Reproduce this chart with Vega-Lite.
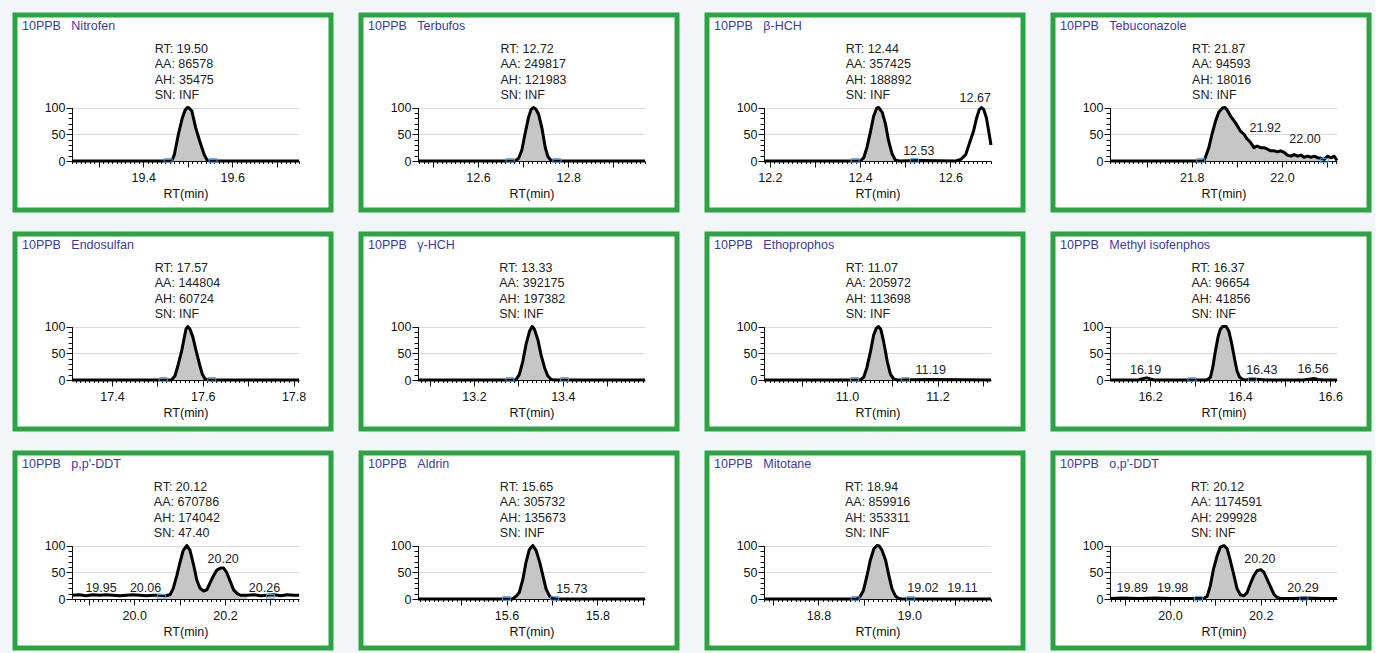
{
"$schema": "https://vega.github.io/schema/vega-lite/v6.json",
"background": "#f3f6f8",
"padding": {"left": 12, "top": 12, "right": 3, "bottom": 3},
"columns": 4,
"spacing": {"row": 18, "column": 24},
"config": {
  "font": "Liberation Sans",
  "view": {"stroke": "#2ca444", "strokeWidth": 5, "fill": "#ffffff"},
  "title": {"anchor": "start", "frame": "group", "offset": -17, "dx": 7, "baseline": "middle", "fontSize": 12.5, "fontWeight": "normal", "color": "#3a3aa0", "font": "Liberation Sans"},
  "axis": {"labelFont": "Liberation Sans", "labelFontSize": 12.5, "labelColor": "#111111", "tickColor": "#111111", "domainColor": "#111111", "titleFont": "Liberation Sans", "titleFontSize": 12.5, "titleFontWeight": "normal", "titleColor": "#111111"},
  "text": {"font": "Liberation Sans", "fontSize": 12.5, "color": "#222222"}
},
"datasets": {
  "curve": [
    {"c":"nit","t":19.24,"v":0,"f":0},{"c":"nit","t":19.456,"v":0,"f":0},{"c":"nit","t":19.464,"v":0,"f":1},{"c":"nit","t":19.470,"v":12,"f":1},{"c":"nit","t":19.479,"v":50,"f":1},{"c":"nit","t":19.488,"v":81,"f":1},{"c":"nit","t":19.494,"v":95,"f":1},{"c":"nit","t":19.499,"v":100,"f":1},{"c":"nit","t":19.503,"v":99,"f":1},{"c":"nit","t":19.509,"v":94,"f":1},{"c":"nit","t":19.518,"v":62,"f":1},{"c":"nit","t":19.527,"v":37,"f":1},{"c":"nit","t":19.537,"v":12,"f":1},{"c":"nit","t":19.544,"v":1,"f":1},{"c":"nit","t":19.550,"v":0,"f":1},{"c":"nit","t":19.75,"v":0,"f":0},
    {"c":"ter","t":12.467,"v":0,"f":0},{"c":"ter","t":12.675,"v":0,"f":0},{"c":"ter","t":12.682,"v":0,"f":1},{"c":"ter","t":12.690,"v":5,"f":1},{"c":"ter","t":12.697,"v":20,"f":1},{"c":"ter","t":12.704,"v":50,"f":1},{"c":"ter","t":12.712,"v":82,"f":1},{"c":"ter","t":12.718,"v":97,"f":1},{"c":"ter","t":12.723,"v":100,"f":1},{"c":"ter","t":12.728,"v":97,"f":1},{"c":"ter","t":12.734,"v":88,"f":1},{"c":"ter","t":12.742,"v":60,"f":1},{"c":"ter","t":12.749,"v":25,"f":1},{"c":"ter","t":12.755,"v":8,"f":1},{"c":"ter","t":12.762,"v":1,"f":1},{"c":"ter","t":12.768,"v":0,"f":1},{"c":"ter","t":12.97,"v":0,"f":0},
    {"c":"bhch","t":12.187,"v":0,"f":0},{"c":"bhch","t":12.39,"v":0,"f":0},{"c":"bhch","t":12.400,"v":0,"f":1},{"c":"bhch","t":12.408,"v":6,"f":1},{"c":"bhch","t":12.415,"v":25,"f":1},{"c":"bhch","t":12.423,"v":55,"f":1},{"c":"bhch","t":12.430,"v":84,"f":1},{"c":"bhch","t":12.437,"v":99,"f":1},{"c":"bhch","t":12.441,"v":100,"f":1},{"c":"bhch","t":12.449,"v":91,"f":1},{"c":"bhch","t":12.456,"v":70,"f":1},{"c":"bhch","t":12.463,"v":38,"f":1},{"c":"bhch","t":12.471,"v":13,"f":1},{"c":"bhch","t":12.478,"v":2,"f":1},{"c":"bhch","t":12.486,"v":0,"f":1},{"c":"bhch","t":12.53,"v":1,"f":0},{"c":"bhch","t":12.612,"v":0,"f":0},{"c":"bhch","t":12.623,"v":3,"f":0},{"c":"bhch","t":12.634,"v":12,"f":0},{"c":"bhch","t":12.643,"v":35,"f":0},{"c":"bhch","t":12.651,"v":55,"f":0},{"c":"bhch","t":12.658,"v":80,"f":0},{"c":"bhch","t":12.664,"v":96,"f":0},{"c":"bhch","t":12.669,"v":100,"f":0},{"c":"bhch","t":12.674,"v":96,"f":0},{"c":"bhch","t":12.680,"v":80,"f":0},{"c":"bhch","t":12.685,"v":55,"f":0},{"c":"bhch","t":12.69,"v":30,"f":0},
    {"c":"teb","t":21.619,"v":0,"f":0},{"c":"teb","t":21.82,"v":0,"f":0},{"c":"teb","t":21.827,"v":0,"f":1},{"c":"teb","t":21.830,"v":6,"f":1},{"c":"teb","t":21.838,"v":25,"f":1},{"c":"teb","t":21.845,"v":50,"f":1},{"c":"teb","t":21.853,"v":75,"f":1},{"c":"teb","t":21.860,"v":91,"f":1},{"c":"teb","t":21.868,"v":99,"f":1},{"c":"teb","t":21.874,"v":100,"f":1},{"c":"teb","t":21.879,"v":95,"f":1},{"c":"teb","t":21.886,"v":84,"f":1},{"c":"teb","t":21.894,"v":75,"f":1},{"c":"teb","t":21.901,"v":66,"f":1},{"c":"teb","t":21.908,"v":56,"f":1},{"c":"teb","t":21.916,"v":50,"f":1},{"c":"teb","t":21.923,"v":41,"f":1},{"c":"teb","t":21.931,"v":34,"f":1},{"c":"teb","t":21.938,"v":25,"f":1},{"c":"teb","t":21.945,"v":28,"f":1},{"c":"teb","t":21.953,"v":25,"f":1},{"c":"teb","t":21.960,"v":25,"f":1},{"c":"teb","t":21.968,"v":22,"f":1},{"c":"teb","t":21.975,"v":19,"f":1},{"c":"teb","t":21.983,"v":19,"f":1},{"c":"teb","t":21.990,"v":17,"f":1},{"c":"teb","t":21.997,"v":19,"f":1},{"c":"teb","t":22.005,"v":16,"f":1},{"c":"teb","t":22.012,"v":11,"f":1},{"c":"teb","t":22.020,"v":9,"f":1},{"c":"teb","t":22.027,"v":12,"f":1},{"c":"teb","t":22.035,"v":9,"f":1},{"c":"teb","t":22.042,"v":11,"f":1},{"c":"teb","t":22.049,"v":7,"f":1},{"c":"teb","t":22.057,"v":9,"f":1},{"c":"teb","t":22.064,"v":7,"f":1},{"c":"teb","t":22.072,"v":9,"f":1},{"c":"teb","t":22.079,"v":6,"f":1},{"c":"teb","t":22.086,"v":5,"f":1},{"c":"teb","t":22.094,"v":3,"f":1},{"c":"teb","t":22.101,"v":9,"f":0},{"c":"teb","t":22.109,"v":6,"f":0},{"c":"teb","t":22.116,"v":9,"f":0},{"c":"teb","t":22.122,"v":1,"f":0},
    {"c":"endo","t":17.312,"v":0,"f":0},{"c":"endo","t":17.525,"v":0,"f":0},{"c":"endo","t":17.531,"v":0,"f":1},{"c":"endo","t":17.539,"v":8,"f":1},{"c":"endo","t":17.546,"v":29,"f":1},{"c":"endo","t":17.554,"v":56,"f":1},{"c":"endo","t":17.559,"v":78,"f":1},{"c":"endo","t":17.563,"v":95,"f":1},{"c":"endo","t":17.567,"v":100,"f":1},{"c":"endo","t":17.572,"v":95,"f":1},{"c":"endo","t":17.578,"v":81,"f":1},{"c":"endo","t":17.585,"v":56,"f":1},{"c":"endo","t":17.593,"v":29,"f":1},{"c":"endo","t":17.599,"v":11,"f":1},{"c":"endo","t":17.605,"v":2,"f":1},{"c":"endo","t":17.613,"v":0,"f":1},{"c":"endo","t":17.812,"v":0,"f":0},
    {"c":"ghch","t":13.074,"v":0,"f":0},{"c":"ghch","t":13.288,"v":0,"f":0},{"c":"ghch","t":13.294,"v":0,"f":1},{"c":"ghch","t":13.302,"v":10,"f":1},{"c":"ghch","t":13.310,"v":35,"f":1},{"c":"ghch","t":13.317,"v":66,"f":1},{"c":"ghch","t":13.325,"v":91,"f":1},{"c":"ghch","t":13.331,"v":100,"f":1},{"c":"ghch","t":13.336,"v":95,"f":1},{"c":"ghch","t":13.344,"v":75,"f":1},{"c":"ghch","t":13.351,"v":47,"f":1},{"c":"ghch","t":13.359,"v":23,"f":1},{"c":"ghch","t":13.366,"v":8,"f":1},{"c":"ghch","t":13.374,"v":1,"f":1},{"c":"ghch","t":13.381,"v":0,"f":1},{"c":"ghch","t":13.585,"v":0,"f":0},
    {"c":"eth","t":10.817,"v":0,"f":0},{"c":"eth","t":11.022,"v":0,"f":0},{"c":"eth","t":11.029,"v":0,"f":1},{"c":"eth","t":11.037,"v":5,"f":1},{"c":"eth","t":11.044,"v":23,"f":1},{"c":"eth","t":11.052,"v":53,"f":1},{"c":"eth","t":11.059,"v":84,"f":1},{"c":"eth","t":11.065,"v":97,"f":1},{"c":"eth","t":11.070,"v":100,"f":1},{"c":"eth","t":11.075,"v":94,"f":1},{"c":"eth","t":11.081,"v":72,"f":1},{"c":"eth","t":11.089,"v":35,"f":1},{"c":"eth","t":11.096,"v":11,"f":1},{"c":"eth","t":11.103,"v":2,"f":1},{"c":"eth","t":11.111,"v":0,"f":1},{"c":"eth","t":11.185,"v":1,"f":0},{"c":"eth","t":11.318,"v":0,"f":0},
    {"c":"mip","t":16.111,"v":0,"f":0},{"c":"mip","t":16.174,"v":0,"f":0},{"c":"mip","t":16.185,"v":3,"f":0},{"c":"mip","t":16.193,"v":4,"f":0},{"c":"mip","t":16.200,"v":2,"f":0},{"c":"mip","t":16.208,"v":0,"f":0},{"c":"mip","t":16.320,"v":0,"f":0},{"c":"mip","t":16.326,"v":0,"f":1},{"c":"mip","t":16.334,"v":5,"f":1},{"c":"mip","t":16.339,"v":23,"f":1},{"c":"mip","t":16.345,"v":54,"f":1},{"c":"mip","t":16.351,"v":81,"f":1},{"c":"mip","t":16.356,"v":95,"f":1},{"c":"mip","t":16.361,"v":100,"f":1},{"c":"mip","t":16.369,"v":100,"f":1},{"c":"mip","t":16.375,"v":91,"f":1},{"c":"mip","t":16.381,"v":69,"f":1},{"c":"mip","t":16.387,"v":42,"f":1},{"c":"mip","t":16.393,"v":17,"f":1},{"c":"mip","t":16.399,"v":5,"f":1},{"c":"mip","t":16.406,"v":1,"f":1},{"c":"mip","t":16.412,"v":0,"f":1},{"c":"mip","t":16.427,"v":2,"f":0},{"c":"mip","t":16.442,"v":1,"f":0},{"c":"mip","t":16.457,"v":0,"f":0},{"c":"mip","t":16.540,"v":0,"f":0},{"c":"mip","t":16.557,"v":2,"f":0},{"c":"mip","t":16.564,"v":3,"f":0},{"c":"mip","t":16.572,"v":1,"f":0},{"c":"mip","t":16.585,"v":0,"f":0},{"c":"mip","t":16.615,"v":0,"f":0},
    {"c":"ppddt","t":19.863,"v":7,"f":0},{"c":"ppddt","t":19.879,"v":8,"f":0},{"c":"ppddt","t":19.894,"v":6,"f":0},{"c":"ppddt","t":19.909,"v":8,"f":0},{"c":"ppddt","t":19.924,"v":7,"f":0},{"c":"ppddt","t":19.938,"v":8,"f":0},{"c":"ppddt","t":19.953,"v":7,"f":0},{"c":"ppddt","t":19.968,"v":6,"f":0},{"c":"ppddt","t":19.983,"v":7,"f":0},{"c":"ppddt","t":19.997,"v":8,"f":0},{"c":"ppddt","t":20.012,"v":7,"f":0},{"c":"ppddt","t":20.027,"v":6,"f":0},{"c":"ppddt","t":20.042,"v":7,"f":0},{"c":"ppddt","t":20.057,"v":7,"f":0},{"c":"ppddt","t":20.068,"v":6,"f":1},{"c":"ppddt","t":20.079,"v":8,"f":1},{"c":"ppddt","t":20.086,"v":20,"f":1},{"c":"ppddt","t":20.094,"v":44,"f":1},{"c":"ppddt","t":20.101,"v":69,"f":1},{"c":"ppddt","t":20.108,"v":91,"f":1},{"c":"ppddt","t":20.116,"v":100,"f":1},{"c":"ppddt","t":20.123,"v":91,"f":1},{"c":"ppddt","t":20.131,"v":63,"f":1},{"c":"ppddt","t":20.138,"v":35,"f":1},{"c":"ppddt","t":20.145,"v":20,"f":1},{"c":"ppddt","t":20.153,"v":15,"f":1},{"c":"ppddt","t":20.160,"v":17,"f":1},{"c":"ppddt","t":20.167,"v":30,"f":1},{"c":"ppddt","t":20.175,"v":44,"f":1},{"c":"ppddt","t":20.182,"v":54,"f":1},{"c":"ppddt","t":20.190,"v":58,"f":1},{"c":"ppddt","t":20.197,"v":58,"f":1},{"c":"ppddt","t":20.204,"v":49,"f":1},{"c":"ppddt","t":20.212,"v":32,"f":1},{"c":"ppddt","t":20.219,"v":17,"f":1},{"c":"ppddt","t":20.227,"v":10,"f":1},{"c":"ppddt","t":20.234,"v":7,"f":1},{"c":"ppddt","t":20.249,"v":7,"f":1},{"c":"ppddt","t":20.264,"v":8,"f":0},{"c":"ppddt","t":20.278,"v":6,"f":0},{"c":"ppddt","t":20.293,"v":7,"f":0},{"c":"ppddt","t":20.308,"v":8,"f":0},{"c":"ppddt","t":20.323,"v":6,"f":0},{"c":"ppddt","t":20.337,"v":8,"f":0},{"c":"ppddt","t":20.352,"v":7,"f":0},{"c":"ppddt","t":20.363,"v":7,"f":0},
    {"c":"ald","t":15.405,"v":0,"f":0},{"c":"ald","t":15.606,"v":0,"f":0},{"c":"ald","t":15.613,"v":0,"f":1},{"c":"ald","t":15.621,"v":5,"f":1},{"c":"ald","t":15.628,"v":12,"f":1},{"c":"ald","t":15.636,"v":37,"f":1},{"c":"ald","t":15.643,"v":69,"f":1},{"c":"ald","t":15.650,"v":92,"f":1},{"c":"ald","t":15.658,"v":100,"f":1},{"c":"ald","t":15.665,"v":91,"f":1},{"c":"ald","t":15.673,"v":69,"f":1},{"c":"ald","t":15.680,"v":44,"f":1},{"c":"ald","t":15.687,"v":19,"f":1},{"c":"ald","t":15.695,"v":5,"f":1},{"c":"ald","t":15.702,"v":1,"f":1},{"c":"ald","t":15.709,"v":0,"f":1},{"c":"ald","t":15.905,"v":0,"f":0},
    {"c":"mit","t":18.68,"v":0,"f":0},{"c":"mit","t":18.878,"v":0,"f":0},{"c":"mit","t":18.885,"v":0,"f":1},{"c":"mit","t":18.892,"v":5,"f":1},{"c":"mit","t":18.899,"v":16,"f":1},{"c":"mit","t":18.907,"v":44,"f":1},{"c":"mit","t":18.914,"v":72,"f":1},{"c":"mit","t":18.922,"v":94,"f":1},{"c":"mit","t":18.929,"v":100,"f":1},{"c":"mit","t":18.934,"v":99,"f":1},{"c":"mit","t":18.940,"v":91,"f":1},{"c":"mit","t":18.948,"v":72,"f":1},{"c":"mit","t":18.955,"v":44,"f":1},{"c":"mit","t":18.962,"v":19,"f":1},{"c":"mit","t":18.970,"v":5,"f":1},{"c":"mit","t":18.977,"v":1,"f":1},{"c":"mit","t":18.984,"v":0,"f":1},{"c":"mit","t":19.18,"v":0,"f":0},
    {"c":"opddt","t":19.868,"v":1,"f":0},{"c":"opddt","t":19.894,"v":2,"f":0},{"c":"opddt","t":19.931,"v":1,"f":0},{"c":"opddt","t":19.967,"v":2,"f":0},{"c":"opddt","t":20.004,"v":1,"f":0},{"c":"opddt","t":20.041,"v":1,"f":0},{"c":"opddt","t":20.068,"v":1,"f":0},{"c":"opddt","t":20.074,"v":1,"f":1},{"c":"opddt","t":20.082,"v":5,"f":1},{"c":"opddt","t":20.089,"v":25,"f":1},{"c":"opddt","t":20.096,"v":56,"f":1},{"c":"opddt","t":20.104,"v":81,"f":1},{"c":"opddt","t":20.111,"v":97,"f":1},{"c":"opddt","t":20.119,"v":100,"f":1},{"c":"opddt","t":20.126,"v":94,"f":1},{"c":"opddt","t":20.133,"v":72,"f":1},{"c":"opddt","t":20.141,"v":44,"f":1},{"c":"opddt","t":20.148,"v":19,"f":1},{"c":"opddt","t":20.155,"v":8,"f":1},{"c":"opddt","t":20.163,"v":6,"f":1},{"c":"opddt","t":20.170,"v":12,"f":1},{"c":"opddt","t":20.177,"v":28,"f":1},{"c":"opddt","t":20.185,"v":44,"f":1},{"c":"opddt","t":20.192,"v":53,"f":1},{"c":"opddt","t":20.200,"v":55,"f":1},{"c":"opddt","t":20.207,"v":50,"f":1},{"c":"opddt","t":20.214,"v":37,"f":1},{"c":"opddt","t":20.222,"v":22,"f":1},{"c":"opddt","t":20.229,"v":9,"f":1},{"c":"opddt","t":20.236,"v":3,"f":1},{"c":"opddt","t":20.244,"v":1,"f":1},{"c":"opddt","t":20.270,"v":1,"f":0},{"c":"opddt","t":20.299,"v":2,"f":0},{"c":"opddt","t":20.336,"v":1,"f":0},{"c":"opddt","t":20.368,"v":1,"f":0}
  ],
  "grid": [
    {"c":"nit","t":19.4},{"c":"nit","t":19.6},
    {"c":"ter","t":12.6},{"c":"ter","t":12.8},
    {"c":"bhch","t":12.2},{"c":"bhch","t":12.4},{"c":"bhch","t":12.6},
    {"c":"teb","t":21.8},{"c":"teb","t":22.0},
    {"c":"endo","t":17.4},{"c":"endo","t":17.6},{"c":"endo","t":17.8},
    {"c":"ghch","t":13.2},{"c":"ghch","t":13.4},
    {"c":"eth","t":11.0},{"c":"eth","t":11.2},
    {"c":"mip","t":16.2},{"c":"mip","t":16.4},{"c":"mip","t":16.6},
    {"c":"ppddt","t":20.0},{"c":"ppddt","t":20.2},
    {"c":"ald","t":15.6},{"c":"ald","t":15.8},
    {"c":"mit","t":18.8},{"c":"mit","t":19.0},
    {"c":"opddt","t":20.0},{"c":"opddt","t":20.2}
  ],
  "mk": [
    {"c":"nit","t":19.456,"v":1},{"c":"nit","t":19.557,"v":1},
    {"c":"ter","t":12.671,"v":1},{"c":"ter","t":12.775,"v":1},
    {"c":"bhch","t":12.389,"v":1},{"c":"bhch","t":12.52,"v":1},
    {"c":"teb","t":21.82,"v":1},{"c":"teb","t":22.094,"v":1},
    {"c":"endo","t":17.513,"v":1},{"c":"endo","t":17.620,"v":1},
    {"c":"ghch","t":13.281,"v":1},{"c":"ghch","t":13.404,"v":1},
    {"c":"eth","t":11.017,"v":1},{"c":"eth","t":11.129,"v":1},
    {"c":"mip","t":16.293,"v":1},{"c":"mip","t":16.427,"v":1},
    {"c":"ppddt","t":20.06,"v":5},{"c":"ppddt","t":20.30,"v":5},
    {"c":"ald","t":15.60,"v":1},{"c":"ald","t":15.706,"v":1},
    {"c":"mit","t":18.881,"v":1},{"c":"mit","t":19.003,"v":1},
    {"c":"opddt","t":20.063,"v":1},{"c":"opddt","t":20.295,"v":1}
  ],
  "ann": [
    {"c":"nit","t":19.50,"v":100,"txt":["RT: 19.50","AA: 86578","AH: 35475","SN: INF"]},
    {"c":"ter","t":12.723,"v":100,"txt":["RT: 12.72","AA: 249817","AH: 121983","SN: INF"]},
    {"c":"bhch","t":12.441,"v":100,"txt":["RT: 12.44","AA: 357425","AH: 188892","SN: INF"]},
    {"c":"teb","t":21.874,"v":100,"txt":["RT: 21.87","AA: 94593","AH: 18016","SN: INF"]},
    {"c":"endo","t":17.567,"v":100,"txt":["RT: 17.57","AA: 144804","AH: 60724","SN: INF"]},
    {"c":"ghch","t":13.331,"v":100,"txt":["RT: 13.33","AA: 392175","AH: 197382","SN: INF"]},
    {"c":"eth","t":11.070,"v":100,"txt":["RT: 11.07","AA: 205972","AH: 113698","SN: INF"]},
    {"c":"mip","t":16.365,"v":100,"txt":["RT: 16.37","AA: 96654","AH: 41856","SN: INF"]},
    {"c":"ppddt","t":20.116,"v":100,"txt":["RT: 20.12","AA: 670786","AH: 174042","SN: 47.40"]},
    {"c":"ald","t":15.658,"v":100,"txt":["RT: 15.65","AA: 305732","AH: 135673","SN: INF"]},
    {"c":"mit","t":18.931,"v":100,"txt":["RT: 18.94","AA: 859916","AH: 353311","SN: INF"]},
    {"c":"opddt","t":20.119,"v":100,"txt":["RT: 20.12","AA: 1174591","AH: 299928","SN: INF"]}
  ],
  "lab": [
    {"c":"bhch","t":12.530,"v":11,"txt":"12.53"},{"c":"bhch","t":12.655,"v":111,"txt":"12.67"},
    {"c":"teb","t":21.963,"v":54,"txt":"21.92"},{"c":"teb","t":22.051,"v":33,"txt":"22.00"},
    {"c":"eth","t":11.185,"v":11,"txt":"11.19"},
    {"c":"mip","t":16.190,"v":12,"txt":"16.19"},{"c":"mip","t":16.448,"v":11,"txt":"16.43"},{"c":"mip","t":16.562,"v":14,"txt":"16.56"},
    {"c":"ppddt","t":19.927,"v":14,"txt":"19.95"},{"c":"ppddt","t":20.025,"v":14,"txt":"20.06"},{"c":"ppddt","t":20.196,"v":68,"txt":"20.20"},{"c":"ppddt","t":20.287,"v":14,"txt":"20.26"},
    {"c":"ald","t":15.744,"v":11,"txt":"15.73"},
    {"c":"mit","t":19.030,"v":12.5,"txt":"19.02"},{"c":"mit","t":19.117,"v":12.5,"txt":"19.11"},
    {"c":"opddt","t":19.917,"v":12.5,"txt":"19.89"},{"c":"opddt","t":20.006,"v":12.5,"txt":"19.98"},{"c":"opddt","t":20.198,"v":67,"txt":"20.20"},{"c":"opddt","t":20.293,"v":12.5,"txt":"20.29"}
  ]
},
"concat": [
  {"width":316,"height":195,"title":"10PPB\u00a0\u00a0\u00a0Nitrofen","data":{"name":"curve"},"transform":[{"filter":"datum.c == 'nit'"}],
   "encoding":{"x":{"field":"t","type":"quantitative","scale":{"domain":[19.24,19.75],"range":[57,284],"nice":false,"zero":false},"axis":{"orient":"bottom","offset":-49,"tickCount":50,"grid":false,"labelExpr":"abs(datum.value*5 - round(datum.value*5)) < 0.001 ? format(datum.value, '.1f') : ''","tickSize":{"condition":{"test":"abs(datum.value*10 - round(datum.value*10)) < 0.001","value":6},"value":2.5},"labelPadding":4.5,"labelOverlap":false,"labelFlush":false,"labelBound":false,"title":"RT(min)","titlePadding":3}},
               "y":{"field":"v","type":"quantitative","scale":{"domain":[0,100],"range":[146,92.5],"nice":false,"zero":false},"axis":{"orient":"left","offset":-57,"values":[0,10,20,30,40,50,60,70,80,90,100],"labelExpr":"datum.value % 50 == 0 ? datum.label : ''","tickSize":{"condition":{"test":"datum.value % 50 == 0","value":6},"value":4},"grid":true,"gridColor":"#d9d9d9","gridOpacity":{"condition":{"test":"datum.value == 50 || datum.value == 100","value":1},"value":0},"labelPadding":1,"labelOverlap":false,"labelFlush":false,"title":null}}},
   "layer":[
     {"data":{"name":"grid"},"transform":[{"filter":"datum.c == 'nit'"}],"mark":{"type":"rule","color":"#d9d9d9","strokeWidth":1},"encoding":{"y":{"datum":0},"y2":{"datum":100}}},
     {"transform":[{"filter":"datum.f == 1"}],"mark":{"type":"area","color":"#c6c6c6"},"encoding":{"y2":{"datum":0}}},
     {"mark":{"type":"line","color":"#000000","strokeWidth":3,"strokeJoin":"round"}},
     {"data":{"name":"mk"},"transform":[{"filter":"datum.c == 'nit'"}],"mark":{"type":"point","shape":"M-1,-0.45L1,-0.45L1,0.45L-1,0.45Z","size":64,"filled":false,"color":"#5b9bd5","strokeWidth":1,"opacity":1}},
     {"data":{"name":"ann"},"transform":[{"filter":"datum.c == 'nit'"}],"mark":{"type":"text","align":"left","baseline":"bottom","dx":-33,"dy":-52,"lineHeight":15.6},"encoding":{"text":{"field":"txt"}}},
     {"data":{"name":"lab"},"transform":[{"filter":"datum.c == 'nit'"}],"mark":{"type":"text","align":"center","baseline":"alphabetic"},"encoding":{"text":{"field":"txt"}}}
   ]},
  {"width":316,"height":195,"title":"10PPB\u00a0\u00a0\u00a0Terbufos","data":{"name":"curve"},"transform":[{"filter":"datum.c == 'ter'"}],
   "encoding":{"x":{"field":"t","type":"quantitative","scale":{"domain":[12.467,12.97],"range":[57,284],"nice":false,"zero":false},"axis":{"orient":"bottom","offset":-49,"tickCount":50,"grid":false,"labelExpr":"abs(datum.value*5 - round(datum.value*5)) < 0.001 ? format(datum.value, '.1f') : ''","tickSize":{"condition":{"test":"abs(datum.value*10 - round(datum.value*10)) < 0.001","value":6},"value":2.5},"labelPadding":4.5,"labelOverlap":false,"labelFlush":false,"labelBound":false,"title":"RT(min)","titlePadding":3}},
               "y":{"field":"v","type":"quantitative","scale":{"domain":[0,100],"range":[146,92.5],"nice":false,"zero":false},"axis":{"orient":"left","offset":-57,"values":[0,10,20,30,40,50,60,70,80,90,100],"labelExpr":"datum.value % 50 == 0 ? datum.label : ''","tickSize":{"condition":{"test":"datum.value % 50 == 0","value":6},"value":4},"grid":true,"gridColor":"#d9d9d9","gridOpacity":{"condition":{"test":"datum.value == 50 || datum.value == 100","value":1},"value":0},"labelPadding":1,"labelOverlap":false,"labelFlush":false,"title":null}}},
   "layer":[
     {"data":{"name":"grid"},"transform":[{"filter":"datum.c == 'ter'"}],"mark":{"type":"rule","color":"#d9d9d9","strokeWidth":1},"encoding":{"y":{"datum":0},"y2":{"datum":100}}},
     {"transform":[{"filter":"datum.f == 1"}],"mark":{"type":"area","color":"#c6c6c6"},"encoding":{"y2":{"datum":0}}},
     {"mark":{"type":"line","color":"#000000","strokeWidth":3,"strokeJoin":"round"}},
     {"data":{"name":"mk"},"transform":[{"filter":"datum.c == 'ter'"}],"mark":{"type":"point","shape":"M-1,-0.45L1,-0.45L1,0.45L-1,0.45Z","size":64,"filled":false,"color":"#5b9bd5","strokeWidth":1,"opacity":1}},
     {"data":{"name":"ann"},"transform":[{"filter":"datum.c == 'ter'"}],"mark":{"type":"text","align":"left","baseline":"bottom","dx":-33,"dy":-52,"lineHeight":15.6},"encoding":{"text":{"field":"txt"}}},
     {"data":{"name":"lab"},"transform":[{"filter":"datum.c == 'ter'"}],"mark":{"type":"text","align":"center","baseline":"alphabetic"},"encoding":{"text":{"field":"txt"}}}
   ]},
  {"width":316,"height":195,"title":"10PPB\u00a0\u00a0\u00a0β-HCH","data":{"name":"curve"},"transform":[{"filter":"datum.c == 'bhch'"}],
   "encoding":{"x":{"field":"t","type":"quantitative","scale":{"domain":[12.187,12.69],"range":[57,284],"nice":false,"zero":false},"axis":{"orient":"bottom","offset":-49,"tickCount":50,"grid":false,"labelExpr":"abs(datum.value*5 - round(datum.value*5)) < 0.001 ? format(datum.value, '.1f') : ''","tickSize":{"condition":{"test":"abs(datum.value*10 - round(datum.value*10)) < 0.001","value":6},"value":2.5},"labelPadding":4.5,"labelOverlap":false,"labelFlush":false,"labelBound":false,"title":"RT(min)","titlePadding":3}},
               "y":{"field":"v","type":"quantitative","scale":{"domain":[0,100],"range":[146,92.5],"nice":false,"zero":false},"axis":{"orient":"left","offset":-57,"values":[0,10,20,30,40,50,60,70,80,90,100],"labelExpr":"datum.value % 50 == 0 ? datum.label : ''","tickSize":{"condition":{"test":"datum.value % 50 == 0","value":6},"value":4},"grid":true,"gridColor":"#d9d9d9","gridOpacity":{"condition":{"test":"datum.value == 50 || datum.value == 100","value":1},"value":0},"labelPadding":1,"labelOverlap":false,"labelFlush":false,"title":null}}},
   "layer":[
     {"data":{"name":"grid"},"transform":[{"filter":"datum.c == 'bhch'"}],"mark":{"type":"rule","color":"#d9d9d9","strokeWidth":1},"encoding":{"y":{"datum":0},"y2":{"datum":100}}},
     {"transform":[{"filter":"datum.f == 1"}],"mark":{"type":"area","color":"#c6c6c6"},"encoding":{"y2":{"datum":0}}},
     {"mark":{"type":"line","color":"#000000","strokeWidth":3,"strokeJoin":"round"}},
     {"data":{"name":"mk"},"transform":[{"filter":"datum.c == 'bhch'"}],"mark":{"type":"point","shape":"M-1,-0.45L1,-0.45L1,0.45L-1,0.45Z","size":64,"filled":false,"color":"#5b9bd5","strokeWidth":1,"opacity":1}},
     {"data":{"name":"ann"},"transform":[{"filter":"datum.c == 'bhch'"}],"mark":{"type":"text","align":"left","baseline":"bottom","dx":-33,"dy":-52,"lineHeight":15.6},"encoding":{"text":{"field":"txt"}}},
     {"data":{"name":"lab"},"transform":[{"filter":"datum.c == 'bhch'"}],"mark":{"type":"text","align":"center","baseline":"alphabetic"},"encoding":{"text":{"field":"txt"}}}
   ]},
  {"width":316,"height":195,"title":"10PPB\u00a0\u00a0\u00a0Tebuconazole","data":{"name":"curve"},"transform":[{"filter":"datum.c == 'teb'"}],
   "encoding":{"x":{"field":"t","type":"quantitative","scale":{"domain":[21.619,22.122],"range":[57,284],"nice":false,"zero":false},"axis":{"orient":"bottom","offset":-49,"tickCount":50,"grid":false,"labelExpr":"abs(datum.value*5 - round(datum.value*5)) < 0.001 ? format(datum.value, '.1f') : ''","tickSize":{"condition":{"test":"abs(datum.value*10 - round(datum.value*10)) < 0.001","value":6},"value":2.5},"labelPadding":4.5,"labelOverlap":false,"labelFlush":false,"labelBound":false,"title":"RT(min)","titlePadding":3}},
               "y":{"field":"v","type":"quantitative","scale":{"domain":[0,100],"range":[146,92.5],"nice":false,"zero":false},"axis":{"orient":"left","offset":-57,"values":[0,10,20,30,40,50,60,70,80,90,100],"labelExpr":"datum.value % 50 == 0 ? datum.label : ''","tickSize":{"condition":{"test":"datum.value % 50 == 0","value":6},"value":4},"grid":true,"gridColor":"#d9d9d9","gridOpacity":{"condition":{"test":"datum.value == 50 || datum.value == 100","value":1},"value":0},"labelPadding":1,"labelOverlap":false,"labelFlush":false,"title":null}}},
   "layer":[
     {"data":{"name":"grid"},"transform":[{"filter":"datum.c == 'teb'"}],"mark":{"type":"rule","color":"#d9d9d9","strokeWidth":1},"encoding":{"y":{"datum":0},"y2":{"datum":100}}},
     {"transform":[{"filter":"datum.f == 1"}],"mark":{"type":"area","color":"#c6c6c6"},"encoding":{"y2":{"datum":0}}},
     {"mark":{"type":"line","color":"#000000","strokeWidth":3,"strokeJoin":"round"}},
     {"data":{"name":"mk"},"transform":[{"filter":"datum.c == 'teb'"}],"mark":{"type":"point","shape":"M-1,-0.45L1,-0.45L1,0.45L-1,0.45Z","size":64,"filled":false,"color":"#5b9bd5","strokeWidth":1,"opacity":1}},
     {"data":{"name":"ann"},"transform":[{"filter":"datum.c == 'teb'"}],"mark":{"type":"text","align":"left","baseline":"bottom","dx":-33,"dy":-52,"lineHeight":15.6},"encoding":{"text":{"field":"txt"}}},
     {"data":{"name":"lab"},"transform":[{"filter":"datum.c == 'teb'"}],"mark":{"type":"text","align":"center","baseline":"alphabetic"},"encoding":{"text":{"field":"txt"}}}
   ]},
  {"width":316,"height":195,"title":"10PPB\u00a0\u00a0\u00a0Endosulfan","data":{"name":"curve"},"transform":[{"filter":"datum.c == 'endo'"}],
   "encoding":{"x":{"field":"t","type":"quantitative","scale":{"domain":[17.312,17.812],"range":[57,284],"nice":false,"zero":false},"axis":{"orient":"bottom","offset":-49,"tickCount":50,"grid":false,"labelExpr":"abs(datum.value*5 - round(datum.value*5)) < 0.001 ? format(datum.value, '.1f') : ''","tickSize":{"condition":{"test":"abs(datum.value*10 - round(datum.value*10)) < 0.001","value":6},"value":2.5},"labelPadding":4.5,"labelOverlap":false,"labelFlush":false,"labelBound":false,"title":"RT(min)","titlePadding":3}},
               "y":{"field":"v","type":"quantitative","scale":{"domain":[0,100],"range":[146,92.5],"nice":false,"zero":false},"axis":{"orient":"left","offset":-57,"values":[0,10,20,30,40,50,60,70,80,90,100],"labelExpr":"datum.value % 50 == 0 ? datum.label : ''","tickSize":{"condition":{"test":"datum.value % 50 == 0","value":6},"value":4},"grid":true,"gridColor":"#d9d9d9","gridOpacity":{"condition":{"test":"datum.value == 50 || datum.value == 100","value":1},"value":0},"labelPadding":1,"labelOverlap":false,"labelFlush":false,"title":null}}},
   "layer":[
     {"data":{"name":"grid"},"transform":[{"filter":"datum.c == 'endo'"}],"mark":{"type":"rule","color":"#d9d9d9","strokeWidth":1},"encoding":{"y":{"datum":0},"y2":{"datum":100}}},
     {"transform":[{"filter":"datum.f == 1"}],"mark":{"type":"area","color":"#c6c6c6"},"encoding":{"y2":{"datum":0}}},
     {"mark":{"type":"line","color":"#000000","strokeWidth":3,"strokeJoin":"round"}},
     {"data":{"name":"mk"},"transform":[{"filter":"datum.c == 'endo'"}],"mark":{"type":"point","shape":"M-1,-0.45L1,-0.45L1,0.45L-1,0.45Z","size":64,"filled":false,"color":"#5b9bd5","strokeWidth":1,"opacity":1}},
     {"data":{"name":"ann"},"transform":[{"filter":"datum.c == 'endo'"}],"mark":{"type":"text","align":"left","baseline":"bottom","dx":-33,"dy":-52,"lineHeight":15.6},"encoding":{"text":{"field":"txt"}}},
     {"data":{"name":"lab"},"transform":[{"filter":"datum.c == 'endo'"}],"mark":{"type":"text","align":"center","baseline":"alphabetic"},"encoding":{"text":{"field":"txt"}}}
   ]},
  {"width":316,"height":195,"title":"10PPB\u00a0\u00a0\u00a0γ-HCH","data":{"name":"curve"},"transform":[{"filter":"datum.c == 'ghch'"}],
   "encoding":{"x":{"field":"t","type":"quantitative","scale":{"domain":[13.074,13.585],"range":[57,284],"nice":false,"zero":false},"axis":{"orient":"bottom","offset":-49,"tickCount":50,"grid":false,"labelExpr":"abs(datum.value*5 - round(datum.value*5)) < 0.001 ? format(datum.value, '.1f') : ''","tickSize":{"condition":{"test":"abs(datum.value*10 - round(datum.value*10)) < 0.001","value":6},"value":2.5},"labelPadding":4.5,"labelOverlap":false,"labelFlush":false,"labelBound":false,"title":"RT(min)","titlePadding":3}},
               "y":{"field":"v","type":"quantitative","scale":{"domain":[0,100],"range":[146,92.5],"nice":false,"zero":false},"axis":{"orient":"left","offset":-57,"values":[0,10,20,30,40,50,60,70,80,90,100],"labelExpr":"datum.value % 50 == 0 ? datum.label : ''","tickSize":{"condition":{"test":"datum.value % 50 == 0","value":6},"value":4},"grid":true,"gridColor":"#d9d9d9","gridOpacity":{"condition":{"test":"datum.value == 50 || datum.value == 100","value":1},"value":0},"labelPadding":1,"labelOverlap":false,"labelFlush":false,"title":null}}},
   "layer":[
     {"data":{"name":"grid"},"transform":[{"filter":"datum.c == 'ghch'"}],"mark":{"type":"rule","color":"#d9d9d9","strokeWidth":1},"encoding":{"y":{"datum":0},"y2":{"datum":100}}},
     {"transform":[{"filter":"datum.f == 1"}],"mark":{"type":"area","color":"#c6c6c6"},"encoding":{"y2":{"datum":0}}},
     {"mark":{"type":"line","color":"#000000","strokeWidth":3,"strokeJoin":"round"}},
     {"data":{"name":"mk"},"transform":[{"filter":"datum.c == 'ghch'"}],"mark":{"type":"point","shape":"M-1,-0.45L1,-0.45L1,0.45L-1,0.45Z","size":64,"filled":false,"color":"#5b9bd5","strokeWidth":1,"opacity":1}},
     {"data":{"name":"ann"},"transform":[{"filter":"datum.c == 'ghch'"}],"mark":{"type":"text","align":"left","baseline":"bottom","dx":-33,"dy":-52,"lineHeight":15.6},"encoding":{"text":{"field":"txt"}}},
     {"data":{"name":"lab"},"transform":[{"filter":"datum.c == 'ghch'"}],"mark":{"type":"text","align":"center","baseline":"alphabetic"},"encoding":{"text":{"field":"txt"}}}
   ]},
  {"width":316,"height":195,"title":"10PPB\u00a0\u00a0\u00a0Ethoprophos","data":{"name":"curve"},"transform":[{"filter":"datum.c == 'eth'"}],
   "encoding":{"x":{"field":"t","type":"quantitative","scale":{"domain":[10.817,11.318],"range":[57,284],"nice":false,"zero":false},"axis":{"orient":"bottom","offset":-49,"tickCount":50,"grid":false,"labelExpr":"abs(datum.value*5 - round(datum.value*5)) < 0.001 ? format(datum.value, '.1f') : ''","tickSize":{"condition":{"test":"abs(datum.value*10 - round(datum.value*10)) < 0.001","value":6},"value":2.5},"labelPadding":4.5,"labelOverlap":false,"labelFlush":false,"labelBound":false,"title":"RT(min)","titlePadding":3}},
               "y":{"field":"v","type":"quantitative","scale":{"domain":[0,100],"range":[146,92.5],"nice":false,"zero":false},"axis":{"orient":"left","offset":-57,"values":[0,10,20,30,40,50,60,70,80,90,100],"labelExpr":"datum.value % 50 == 0 ? datum.label : ''","tickSize":{"condition":{"test":"datum.value % 50 == 0","value":6},"value":4},"grid":true,"gridColor":"#d9d9d9","gridOpacity":{"condition":{"test":"datum.value == 50 || datum.value == 100","value":1},"value":0},"labelPadding":1,"labelOverlap":false,"labelFlush":false,"title":null}}},
   "layer":[
     {"data":{"name":"grid"},"transform":[{"filter":"datum.c == 'eth'"}],"mark":{"type":"rule","color":"#d9d9d9","strokeWidth":1},"encoding":{"y":{"datum":0},"y2":{"datum":100}}},
     {"transform":[{"filter":"datum.f == 1"}],"mark":{"type":"area","color":"#c6c6c6"},"encoding":{"y2":{"datum":0}}},
     {"mark":{"type":"line","color":"#000000","strokeWidth":3,"strokeJoin":"round"}},
     {"data":{"name":"mk"},"transform":[{"filter":"datum.c == 'eth'"}],"mark":{"type":"point","shape":"M-1,-0.45L1,-0.45L1,0.45L-1,0.45Z","size":64,"filled":false,"color":"#5b9bd5","strokeWidth":1,"opacity":1}},
     {"data":{"name":"ann"},"transform":[{"filter":"datum.c == 'eth'"}],"mark":{"type":"text","align":"left","baseline":"bottom","dx":-33,"dy":-52,"lineHeight":15.6},"encoding":{"text":{"field":"txt"}}},
     {"data":{"name":"lab"},"transform":[{"filter":"datum.c == 'eth'"}],"mark":{"type":"text","align":"center","baseline":"alphabetic"},"encoding":{"text":{"field":"txt"}}}
   ]},
  {"width":316,"height":195,"title":"10PPB\u00a0\u00a0\u00a0Methyl isofenphos","data":{"name":"curve"},"transform":[{"filter":"datum.c == 'mip'"}],
   "encoding":{"x":{"field":"t","type":"quantitative","scale":{"domain":[16.111,16.615],"range":[57,284],"nice":false,"zero":false},"axis":{"orient":"bottom","offset":-49,"tickCount":50,"grid":false,"labelExpr":"abs(datum.value*5 - round(datum.value*5)) < 0.001 ? format(datum.value, '.1f') : ''","tickSize":{"condition":{"test":"abs(datum.value*10 - round(datum.value*10)) < 0.001","value":6},"value":2.5},"labelPadding":4.5,"labelOverlap":false,"labelFlush":false,"labelBound":false,"title":"RT(min)","titlePadding":3}},
               "y":{"field":"v","type":"quantitative","scale":{"domain":[0,100],"range":[146,92.5],"nice":false,"zero":false},"axis":{"orient":"left","offset":-57,"values":[0,10,20,30,40,50,60,70,80,90,100],"labelExpr":"datum.value % 50 == 0 ? datum.label : ''","tickSize":{"condition":{"test":"datum.value % 50 == 0","value":6},"value":4},"grid":true,"gridColor":"#d9d9d9","gridOpacity":{"condition":{"test":"datum.value == 50 || datum.value == 100","value":1},"value":0},"labelPadding":1,"labelOverlap":false,"labelFlush":false,"title":null}}},
   "layer":[
     {"data":{"name":"grid"},"transform":[{"filter":"datum.c == 'mip'"}],"mark":{"type":"rule","color":"#d9d9d9","strokeWidth":1},"encoding":{"y":{"datum":0},"y2":{"datum":100}}},
     {"transform":[{"filter":"datum.f == 1"}],"mark":{"type":"area","color":"#c6c6c6"},"encoding":{"y2":{"datum":0}}},
     {"mark":{"type":"line","color":"#000000","strokeWidth":3,"strokeJoin":"round"}},
     {"data":{"name":"mk"},"transform":[{"filter":"datum.c == 'mip'"}],"mark":{"type":"point","shape":"M-1,-0.45L1,-0.45L1,0.45L-1,0.45Z","size":64,"filled":false,"color":"#5b9bd5","strokeWidth":1,"opacity":1}},
     {"data":{"name":"ann"},"transform":[{"filter":"datum.c == 'mip'"}],"mark":{"type":"text","align":"left","baseline":"bottom","dx":-33,"dy":-52,"lineHeight":15.6},"encoding":{"text":{"field":"txt"}}},
     {"data":{"name":"lab"},"transform":[{"filter":"datum.c == 'mip'"}],"mark":{"type":"text","align":"center","baseline":"alphabetic"},"encoding":{"text":{"field":"txt"}}}
   ]},
  {"width":316,"height":195,"title":"10PPB\u00a0\u00a0\u00a0p,p'-DDT","data":{"name":"curve"},"transform":[{"filter":"datum.c == 'ppddt'"}],
   "encoding":{"x":{"field":"t","type":"quantitative","scale":{"domain":[19.863,20.363],"range":[57,284],"nice":false,"zero":false},"axis":{"orient":"bottom","offset":-49,"tickCount":50,"grid":false,"labelExpr":"abs(datum.value*5 - round(datum.value*5)) < 0.001 ? format(datum.value, '.1f') : ''","tickSize":{"condition":{"test":"abs(datum.value*10 - round(datum.value*10)) < 0.001","value":6},"value":2.5},"labelPadding":4.5,"labelOverlap":false,"labelFlush":false,"labelBound":false,"title":"RT(min)","titlePadding":3}},
               "y":{"field":"v","type":"quantitative","scale":{"domain":[0,100],"range":[146,92.5],"nice":false,"zero":false},"axis":{"orient":"left","offset":-57,"values":[0,10,20,30,40,50,60,70,80,90,100],"labelExpr":"datum.value % 50 == 0 ? datum.label : ''","tickSize":{"condition":{"test":"datum.value % 50 == 0","value":6},"value":4},"grid":true,"gridColor":"#d9d9d9","gridOpacity":{"condition":{"test":"datum.value == 50 || datum.value == 100","value":1},"value":0},"labelPadding":1,"labelOverlap":false,"labelFlush":false,"title":null}}},
   "layer":[
     {"data":{"name":"grid"},"transform":[{"filter":"datum.c == 'ppddt'"}],"mark":{"type":"rule","color":"#d9d9d9","strokeWidth":1},"encoding":{"y":{"datum":0},"y2":{"datum":100}}},
     {"transform":[{"filter":"datum.f == 1"}],"mark":{"type":"area","color":"#c6c6c6"},"encoding":{"y2":{"datum":0}}},
     {"mark":{"type":"line","color":"#000000","strokeWidth":3,"strokeJoin":"round"}},
     {"data":{"name":"mk"},"transform":[{"filter":"datum.c == 'ppddt'"}],"mark":{"type":"point","shape":"M-1,-0.45L1,-0.45L1,0.45L-1,0.45Z","size":64,"filled":false,"color":"#5b9bd5","strokeWidth":1,"opacity":1}},
     {"data":{"name":"ann"},"transform":[{"filter":"datum.c == 'ppddt'"}],"mark":{"type":"text","align":"left","baseline":"bottom","dx":-33,"dy":-52,"lineHeight":15.6},"encoding":{"text":{"field":"txt"}}},
     {"data":{"name":"lab"},"transform":[{"filter":"datum.c == 'ppddt'"}],"mark":{"type":"text","align":"center","baseline":"alphabetic"},"encoding":{"text":{"field":"txt"}}}
   ]},
  {"width":316,"height":195,"title":"10PPB\u00a0\u00a0\u00a0Aldrin","data":{"name":"curve"},"transform":[{"filter":"datum.c == 'ald'"}],
   "encoding":{"x":{"field":"t","type":"quantitative","scale":{"domain":[15.405,15.905],"range":[57,284],"nice":false,"zero":false},"axis":{"orient":"bottom","offset":-49,"tickCount":50,"grid":false,"labelExpr":"abs(datum.value*5 - round(datum.value*5)) < 0.001 ? format(datum.value, '.1f') : ''","tickSize":{"condition":{"test":"abs(datum.value*10 - round(datum.value*10)) < 0.001","value":6},"value":2.5},"labelPadding":4.5,"labelOverlap":false,"labelFlush":false,"labelBound":false,"title":"RT(min)","titlePadding":3}},
               "y":{"field":"v","type":"quantitative","scale":{"domain":[0,100],"range":[146,92.5],"nice":false,"zero":false},"axis":{"orient":"left","offset":-57,"values":[0,10,20,30,40,50,60,70,80,90,100],"labelExpr":"datum.value % 50 == 0 ? datum.label : ''","tickSize":{"condition":{"test":"datum.value % 50 == 0","value":6},"value":4},"grid":true,"gridColor":"#d9d9d9","gridOpacity":{"condition":{"test":"datum.value == 50 || datum.value == 100","value":1},"value":0},"labelPadding":1,"labelOverlap":false,"labelFlush":false,"title":null}}},
   "layer":[
     {"data":{"name":"grid"},"transform":[{"filter":"datum.c == 'ald'"}],"mark":{"type":"rule","color":"#d9d9d9","strokeWidth":1},"encoding":{"y":{"datum":0},"y2":{"datum":100}}},
     {"transform":[{"filter":"datum.f == 1"}],"mark":{"type":"area","color":"#c6c6c6"},"encoding":{"y2":{"datum":0}}},
     {"mark":{"type":"line","color":"#000000","strokeWidth":3,"strokeJoin":"round"}},
     {"data":{"name":"mk"},"transform":[{"filter":"datum.c == 'ald'"}],"mark":{"type":"point","shape":"M-1,-0.45L1,-0.45L1,0.45L-1,0.45Z","size":64,"filled":false,"color":"#5b9bd5","strokeWidth":1,"opacity":1}},
     {"data":{"name":"ann"},"transform":[{"filter":"datum.c == 'ald'"}],"mark":{"type":"text","align":"left","baseline":"bottom","dx":-33,"dy":-52,"lineHeight":15.6},"encoding":{"text":{"field":"txt"}}},
     {"data":{"name":"lab"},"transform":[{"filter":"datum.c == 'ald'"}],"mark":{"type":"text","align":"center","baseline":"alphabetic"},"encoding":{"text":{"field":"txt"}}}
   ]},
  {"width":316,"height":195,"title":"10PPB\u00a0\u00a0\u00a0Mitotane","data":{"name":"curve"},"transform":[{"filter":"datum.c == 'mit'"}],
   "encoding":{"x":{"field":"t","type":"quantitative","scale":{"domain":[18.68,19.18],"range":[57,284],"nice":false,"zero":false},"axis":{"orient":"bottom","offset":-49,"tickCount":50,"grid":false,"labelExpr":"abs(datum.value*5 - round(datum.value*5)) < 0.001 ? format(datum.value, '.1f') : ''","tickSize":{"condition":{"test":"abs(datum.value*10 - round(datum.value*10)) < 0.001","value":6},"value":2.5},"labelPadding":4.5,"labelOverlap":false,"labelFlush":false,"labelBound":false,"title":"RT(min)","titlePadding":3}},
               "y":{"field":"v","type":"quantitative","scale":{"domain":[0,100],"range":[146,92.5],"nice":false,"zero":false},"axis":{"orient":"left","offset":-57,"values":[0,10,20,30,40,50,60,70,80,90,100],"labelExpr":"datum.value % 50 == 0 ? datum.label : ''","tickSize":{"condition":{"test":"datum.value % 50 == 0","value":6},"value":4},"grid":true,"gridColor":"#d9d9d9","gridOpacity":{"condition":{"test":"datum.value == 50 || datum.value == 100","value":1},"value":0},"labelPadding":1,"labelOverlap":false,"labelFlush":false,"title":null}}},
   "layer":[
     {"data":{"name":"grid"},"transform":[{"filter":"datum.c == 'mit'"}],"mark":{"type":"rule","color":"#d9d9d9","strokeWidth":1},"encoding":{"y":{"datum":0},"y2":{"datum":100}}},
     {"transform":[{"filter":"datum.f == 1"}],"mark":{"type":"area","color":"#c6c6c6"},"encoding":{"y2":{"datum":0}}},
     {"mark":{"type":"line","color":"#000000","strokeWidth":3,"strokeJoin":"round"}},
     {"data":{"name":"mk"},"transform":[{"filter":"datum.c == 'mit'"}],"mark":{"type":"point","shape":"M-1,-0.45L1,-0.45L1,0.45L-1,0.45Z","size":64,"filled":false,"color":"#5b9bd5","strokeWidth":1,"opacity":1}},
     {"data":{"name":"ann"},"transform":[{"filter":"datum.c == 'mit'"}],"mark":{"type":"text","align":"left","baseline":"bottom","dx":-33,"dy":-52,"lineHeight":15.6},"encoding":{"text":{"field":"txt"}}},
     {"data":{"name":"lab"},"transform":[{"filter":"datum.c == 'mit'"}],"mark":{"type":"text","align":"center","baseline":"alphabetic"},"encoding":{"text":{"field":"txt"}}}
   ]},
  {"width":316,"height":195,"title":"10PPB\u00a0\u00a0\u00a0o,p'-DDT","data":{"name":"curve"},"transform":[{"filter":"datum.c == 'opddt'"}],
   "encoding":{"x":{"field":"t","type":"quantitative","scale":{"domain":[19.868,20.368],"range":[57,284],"nice":false,"zero":false},"axis":{"orient":"bottom","offset":-49,"tickCount":50,"grid":false,"labelExpr":"abs(datum.value*5 - round(datum.value*5)) < 0.001 ? format(datum.value, '.1f') : ''","tickSize":{"condition":{"test":"abs(datum.value*10 - round(datum.value*10)) < 0.001","value":6},"value":2.5},"labelPadding":4.5,"labelOverlap":false,"labelFlush":false,"labelBound":false,"title":"RT(min)","titlePadding":3}},
               "y":{"field":"v","type":"quantitative","scale":{"domain":[0,100],"range":[146,92.5],"nice":false,"zero":false},"axis":{"orient":"left","offset":-57,"values":[0,10,20,30,40,50,60,70,80,90,100],"labelExpr":"datum.value % 50 == 0 ? datum.label : ''","tickSize":{"condition":{"test":"datum.value % 50 == 0","value":6},"value":4},"grid":true,"gridColor":"#d9d9d9","gridOpacity":{"condition":{"test":"datum.value == 50 || datum.value == 100","value":1},"value":0},"labelPadding":1,"labelOverlap":false,"labelFlush":false,"title":null}}},
   "layer":[
     {"data":{"name":"grid"},"transform":[{"filter":"datum.c == 'opddt'"}],"mark":{"type":"rule","color":"#d9d9d9","strokeWidth":1},"encoding":{"y":{"datum":0},"y2":{"datum":100}}},
     {"transform":[{"filter":"datum.f == 1"}],"mark":{"type":"area","color":"#c6c6c6"},"encoding":{"y2":{"datum":0}}},
     {"mark":{"type":"line","color":"#000000","strokeWidth":3,"strokeJoin":"round"}},
     {"data":{"name":"mk"},"transform":[{"filter":"datum.c == 'opddt'"}],"mark":{"type":"point","shape":"M-1,-0.45L1,-0.45L1,0.45L-1,0.45Z","size":64,"filled":false,"color":"#5b9bd5","strokeWidth":1,"opacity":1}},
     {"data":{"name":"ann"},"transform":[{"filter":"datum.c == 'opddt'"}],"mark":{"type":"text","align":"left","baseline":"bottom","dx":-33,"dy":-52,"lineHeight":15.6},"encoding":{"text":{"field":"txt"}}},
     {"data":{"name":"lab"},"transform":[{"filter":"datum.c == 'opddt'"}],"mark":{"type":"text","align":"center","baseline":"alphabetic"},"encoding":{"text":{"field":"txt"}}}
   ]}
]
}
